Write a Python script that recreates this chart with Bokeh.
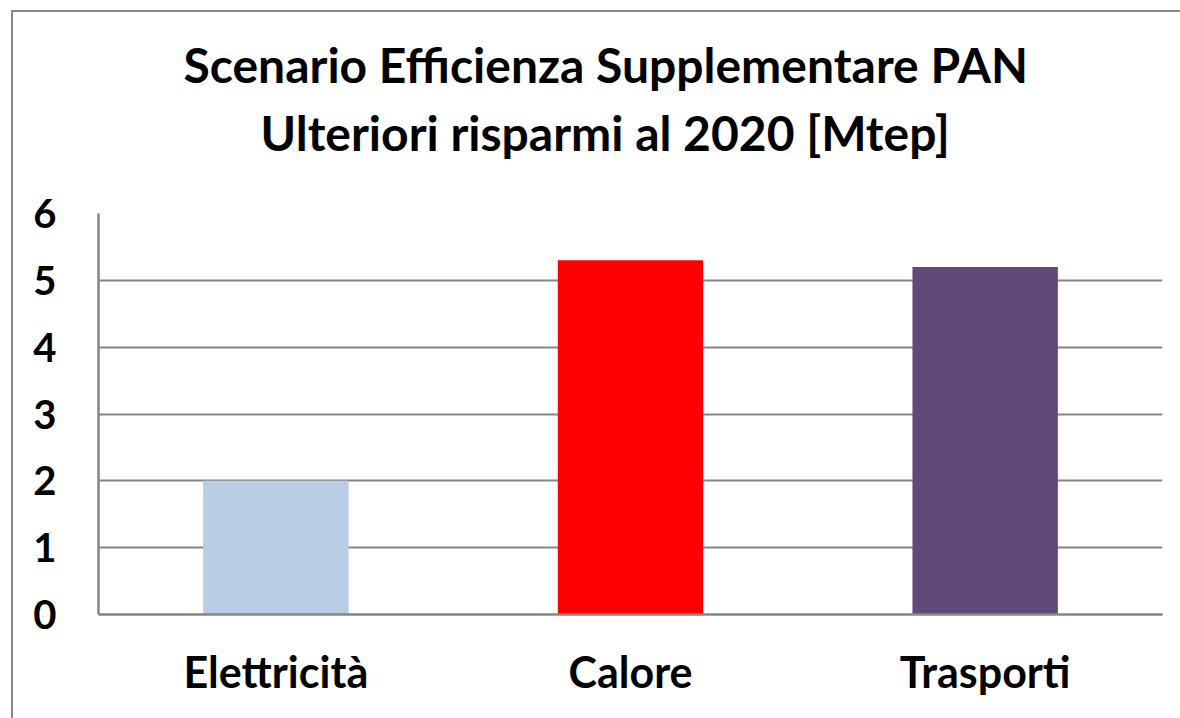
from bokeh.plotting import figure
from bokeh.models import FactorRange, Range1d, ColumnDataSource, FixedTicker, Title
from bokeh.embed import file_html
from bokeh.resources import INLINE

categories = ["Elettricità", "Calore", "Trasporti"]
values = [2.0, 5.3, 5.2]
colors = ["#B9CDE5", "#FF0000", "#604A7B"]
title_lines = ["Scenario Efficienza Supplementare PAN", "Ulteriori risparmi al 2020 [Mtep]"]
y_ticks = [0, 1, 2, 3, 4, 5, 6]

FONT = "Lato"
GRID = "#868686"

src = ColumnDataSource(dict(cat=categories, val=values, col=colors))

p = figure(width=1180, height=718, x_range=FactorRange(factors=categories),
           y_range=Range1d(0, 6), output_backend="svg", toolbar_location=None,
           min_border_left=98, min_border_right=18, min_border_top=213, min_border_bottom=104)
p.outline_line_color = None
p.border_fill_color = None
p.background_fill_color = "white"
p.styles = {"box-shadow": "inset 11px 10px 0 0 white, inset 13px 12px 0 0 #898989"}

p.vbar(x="cat", top="val", width=0.41, color="col", line_color=None, source=src)

p.xgrid.grid_line_color = None
p.ygrid.grid_line_color = GRID
p.ygrid.grid_line_width = 2
p.yaxis.ticker = FixedTicker(ticks=y_ticks)

for ax in (p.xaxis, p.yaxis):
    ax.axis_line_color = GRID
    ax.axis_line_width = 2.5
    ax.major_tick_line_color = None
    ax.minor_tick_line_color = None
    ax.major_tick_out = 0
    ax.major_tick_in = 0
    ax.major_label_text_font = FONT
    ax.major_label_text_font_style = "bold"
    ax.major_label_text_color = "black"

p.yaxis.major_label_text_font_size = "40px"
p.yaxis.major_label_standoff = 42
p.xaxis.major_label_text_font_size = "43px"
p.xaxis.major_label_standoff = 31

# spacer between frame and the title lines
p.add_layout(Title(text=" ", text_font_size="10px", standoff=35), "above")
p.add_layout(Title(text=title_lines[1], align="left", offset=162, standoff=10,
                   text_font=FONT, text_font_style="bold", text_font_size="48px",
                   text_color="black"), "above")
p.add_layout(Title(text=title_lines[0], align="left", offset=85, standoff=8,
                   text_font=FONT, text_font_style="bold", text_font_size="48px",
                   text_color="black"), "above")

open("out.html", "w").write(file_html(p, INLINE))
